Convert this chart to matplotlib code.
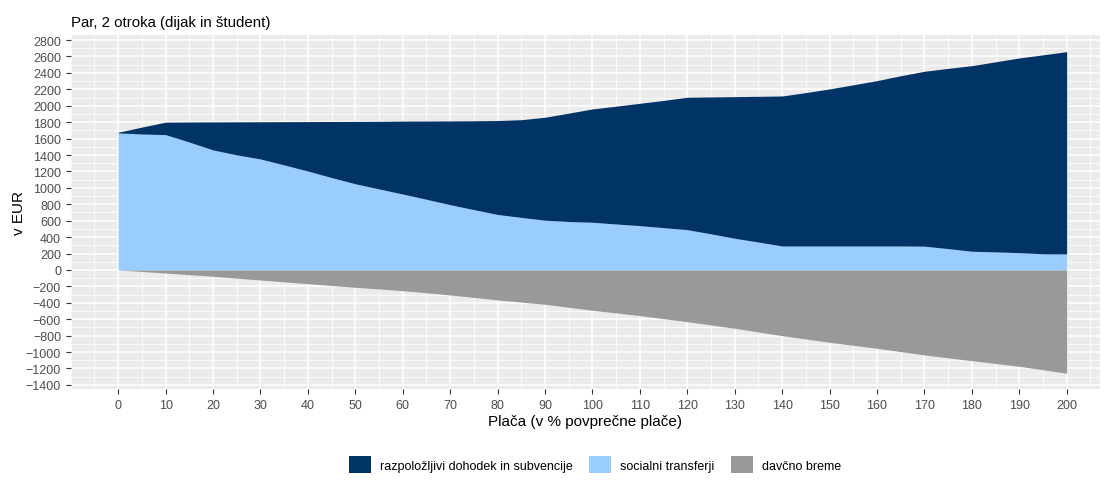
import matplotlib.pyplot as plt
from matplotlib.patches import Patch
from matplotlib.ticker import MultipleLocator
import numpy as np

plt.rcParams['font.family'] = ['Liberation Sans', 'DejaVu Sans']

# plača v % povprečne plače
placa = np.arange(0, 201, 5)

# zgornji rob (socialni transferji + razpoložljivi dohodek in subvencije)
skupaj = [1677, 1740, 1800, 1802, 1803, 1804, 1805, 1806, 1807, 1808,
          1809, 1810, 1813, 1814, 1815, 1817, 1820, 1830, 1860, 1910,
          1961, 1995, 2030, 2065, 2103, 2107, 2111, 2115, 2119, 2160,
          2205, 2255, 2306, 2365, 2420, 2455, 2488, 2535, 2582, 2620,
          2659]

# socialni transferji
socialni = [1669, 1656, 1648, 1558, 1462, 1402, 1352, 1279, 1205, 1125,
            1050, 987, 925, 861, 795, 735, 676, 640, 606, 590,
            581, 560, 540, 515, 491, 440, 386, 340, 292, 292,
            292, 292, 292, 292, 290, 260, 228, 220, 211, 197,
            195]

# davčno breme
davki = [0, -18, -37, -57, -77, -100, -122, -145, -167, -189,
         -211, -231, -252, -277, -304, -334, -365, -391, -418, -454,
         -491, -523, -556, -593, -630, -670, -710, -755, -800, -840,
         -881, -917, -954, -994, -1035, -1070, -1105, -1139, -1173, -1215,
         -1258]

x_ticks = list(range(0, 201, 10))
y_ticks = list(range(-1400, 2801, 200))

labels = ["razpoložljivi dohodek in subvencije", "socialni transferji", "davčno breme"]
colors = ["#003366", "#99CCFF", "#999999"]

fig = plt.figure(figsize=(11.12, 4.85), dpi=100)
ax = fig.add_axes([0.0636, 0.195, 0.9255, 0.7315])

ax.fill_between(placa, 0, socialni, color=colors[1], lw=0)
ax.fill_between(placa, socialni, skupaj, color=colors[0], lw=0)
ax.fill_between(placa, 0, davki, color=colors[2], lw=0)

# ggplot-like theme
ax.set_facecolor("#EBEBEB")
for s in ax.spines.values():
    s.set_visible(False)
ax.set_xticks(x_ticks)
ax.set_yticks(y_ticks)
ax.xaxis.set_minor_locator(MultipleLocator(5))
ax.yaxis.set_minor_locator(MultipleLocator(100))
ax.grid(which='major', color='white', lw=1.1)
ax.grid(which='minor', color='white', lw=0.55)
ax.set_axisbelow(True)
ax.tick_params(which='major', length=3.5, width=0.8, color='#333333',
               labelcolor='#4D4D4D', labelsize=9)
ax.tick_params(which='minor', length=0)

ax.set_xlim(-10, 207)
ax.set_ylim(-1455, 2866)

ax.set_xlabel("Plača (v % povprečne plače)", fontsize=11, labelpad=2)
ax.set_ylabel("v EUR", fontsize=11, labelpad=0)
ax.set_title("Par, 2 otroka (dijak in študent)", fontsize=10.8, loc='left', pad=6)

handles = [Patch(facecolor=c, edgecolor='none', label=l) for c, l in zip(colors, labels)]
fig.legend(handles=handles, loc='center', bbox_to_anchor=(0.535, 0.04), ncol=3,
           frameon=False, fontsize=9, handlelength=1.8, handleheight=1.8,
           handletextpad=0.7, columnspacing=1.3)

fig.savefig("out.png", dpi=100)
